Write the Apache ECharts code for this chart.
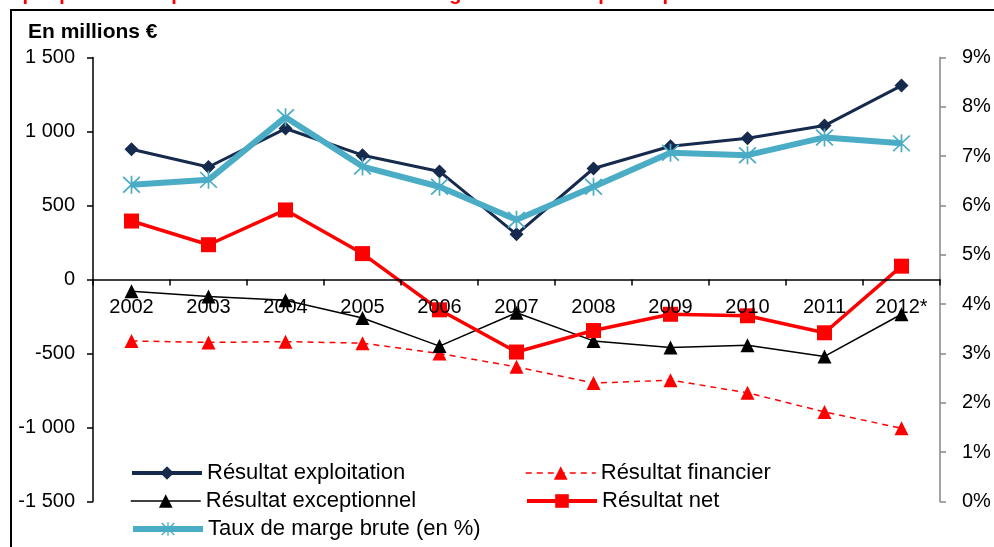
<!DOCTYPE html>
<html>
<head>
<meta charset="utf-8">
<script src="https://cdn.jsdelivr.net/npm/echarts@6/dist/echarts.min.js"></script>
<style>
  html, body { margin: 0; padding: 0; background: #fff; }
  #main { width: 994px; height: 547px; }
</style>
</head>
<body>
<div id="main"></div>
<script>
// donnees
var years = ["2002", "2003", "2004", "2005", "2006", "2007", "2008", "2009", "2010", "2011", "2012*"];
var exploitation = [880, 760, 1020, 840, 730, 305, 750, 900, 955, 1040, 1310];
var financier = [-415, -425, -420, -430, -500, -590, -700, -680, -765, -895, -1005];
var exceptionnel = [-80, -115, -140, -260, -450, -225, -415, -460, -445, -520, -235];
var net = [395, 235, 470, 175, -205, -490, -345, -235, -245, -360, 90];
var tauxMarge = [6.42, 6.52, 7.79, 6.79, 6.38, 5.71, 6.38, 7.07, 7.02, 7.38, 7.26];

var font = "Liberation Sans, Arial, sans-serif";
// marqueur etoile (X + barre verticale) facon Excel
var star = "path://M9.1 0L10.9 0L10.9 20L9.1 20Z M0.6 1.9L1.9 0.6L19.4 18.1L18.1 19.4Z M18.1 0.6L19.4 1.9L1.9 19.4L0.6 18.1Z";

var chart = echarts.init(document.getElementById("main"), null, { renderer: "canvas" });

function legendAt(name, left, top, line) {
    return {
        data: [name],
        left: left,
        top: top,
        itemWidth: 70,
        itemHeight: 17,
        selectedMode: false,
        lineStyle: line,
        textStyle: { fontFamily: font, fontSize: 22, color: "#000" },
    };
}

var option = {
    animation: false,
    textStyle: { fontFamily: font },
    graphic: [
        {
            type: "text",
            left: -12,
            top: -16,
            style: {
                text: "Graphique 1 – Compte de résultat et taux de marge brute des hôpitaux publics entre 2002 et 2012",
                fill: "#ff0000",
                font: "bold 20px Liberation Sans, Arial, sans-serif",
            },
        },
        {
            type: "rect",
            shape: { x: 11, y: 10, width: 1000, height: 600 },
            style: { fill: "none", stroke: "#000", lineWidth: 2 },
        },
        {
            type: "text",
            left: 28,
            top: 22,
            style: {
                text: "En millions €",
                fill: "#000",
                font: "bold 21px Liberation Sans, Arial, sans-serif",
            },
        },
    ],
    legend: [
        legendAt("Résultat exploitation", 125, 457, { width: 4 }),
        legendAt("Résultat exceptionnel", 125, 485, { width: 1.5 }),
        legendAt("Taux de marge brute (en %)", 125, 513, { width: 6 }),
        legendAt("Résultat financier", 520, 457, { width: 1.5, type: [6, 5] }),
        legendAt("Résultat net", 520, 485, { width: 4 }),
    ],
    grid: { left: 93, right: 54, top: 57.5, bottom: 45.5 },
    xAxis: {
        type: "category",
        data: years,
        z: 10,
        // l'axe est remonte sur la ligne du zero de l'axe de gauche
        offset: -222,
        axisLine: { onZero: false, lineStyle: { color: "#000", width: 1.5 } },
        axisTick: { show: true, length: 6, lineStyle: { color: "#000", width: 1.5 } },
        axisLabel: { color: "#000", fontSize: 20, margin: 18, interval: 0 },
    },
    yAxis: [
        {
            type: "value",
            min: -1500,
            max: 1500,
            interval: 500,
            splitLine: { show: false },
            axisLine: { show: true, lineStyle: { color: "#000", width: 1.5 } },
            axisTick: { show: true, length: 6, lineStyle: { color: "#000", width: 1.5 } },
            axisLabel: {
                color: "#000",
                fontSize: 20,
                margin: 18,
                formatter: function (v) {
                    return String(v).replace(/\B(?=(\d{3})+(?!\d))/g, " ");
                },
            },
        },
        {
            type: "value",
            min: 0,
            max: 9,
            interval: 1,
            splitLine: { show: false },
            axisLine: { show: true, lineStyle: { color: "#868686", width: 1.5 } },
            axisTick: { show: true, length: 6, lineStyle: { color: "#868686", width: 1.5 } },
            axisLabel: { color: "#000", fontSize: 20, margin: 22, formatter: "{value}%" },
        },
    ],
    series: [
        {
            name: "Résultat exploitation",
            type: "line",
            data: exploitation,
            color: "#152a4c",
            symbol: "diamond",
            symbolSize: 14,
            lineStyle: { width: 3 },
            z: 2,
        },
        {
            name: "Résultat financier",
            type: "line",
            data: financier,
            color: "#ff0000",
            symbol: "triangle",
            symbolSize: 14,
            lineStyle: { width: 1.5, type: [6, 5] },
            z: 3,
        },
        {
            name: "Résultat exceptionnel",
            type: "line",
            data: exceptionnel,
            color: "#000000",
            symbol: "triangle",
            symbolSize: 14,
            lineStyle: { width: 1.5 },
            z: 4,
        },
        {
            name: "Résultat net",
            type: "line",
            data: net,
            color: "#ff0000",
            symbol: "rect",
            symbolSize: 15,
            lineStyle: { width: 3.5 },
            z: 5,
        },
        {
            name: "Taux de marge brute (en %)",
            type: "line",
            yAxisIndex: 1,
            data: tauxMarge,
            color: "#4bacc6",
            symbol: star,
            symbolSize: 18,
            lineStyle: { width: 6 },
            z: 6,
        },
    ],
};

chart.setOption(option);
</script>
</body>
</html>
